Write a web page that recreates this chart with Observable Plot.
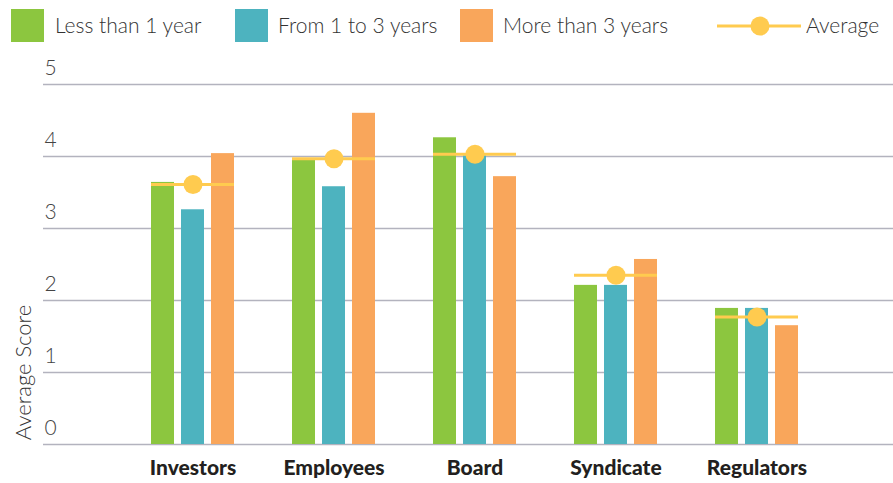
<!DOCTYPE html>
<html>
<head>
<meta charset="utf-8">
<script src="https://cdn.jsdelivr.net/npm/d3@7"></script>
<script src="https://cdn.jsdelivr.net/npm/@observablehq/plot@0.6"></script>
<style>
  html, body { margin: 0; padding: 0; background: #fff; }
  body { width: 893px; height: 483px; overflow: hidden; font-family: Lato, "Open Sans", sans-serif; }
  #legend { position: relative; height: 52px; width: 893px; }
  .sw { position: absolute; top: 9px; width: 33px; height: 33px; }
  .lt { position: absolute; top: 11px; font-size: 21px; font-weight: 300; color: #333; line-height: 28px; white-space: nowrap; }
  #chart svg { display: block; }
</style>
</head>
<body>
<div id="legend"></div>
<div id="chart"></div>
<script>
const categories = ["Investors", "Employees", "Board", "Syndicate", "Regulators"];
const series = ["Less than 1 year", "From 1 to 3 years", "More than 3 years"];
const lessThan1 = [3.64, 3.97, 4.26, 2.21, 1.89];
const from1to3 = [3.26, 3.58, 4.01, 2.21, 1.89];
const moreThan3 = [4.04, 4.60, 3.72, 2.57, 1.65];
const average = [3.61, 3.97, 4.03, 2.35, 1.77];
const yTicks = [0, 1, 2, 3, 4, 5];
const yTitle = "Average Score";
const colors = ["#8CC63F", "#4DB3BF", "#F9A65B"];
const avgColor = "#FFCB4F";

// Legend
const legend = document.getElementById("legend");
const legendPos = [{sw: 11, tx: 55}, {sw: 235, tx: 278}, {sw: 460, tx: 503}];
series.forEach((s, i) => {
  const sw = document.createElement("div");
  sw.className = "sw"; sw.style.left = legendPos[i].sw + "px"; sw.style.background = colors[i];
  legend.appendChild(sw);
  const t = document.createElement("div");
  t.className = "lt"; t.style.left = legendPos[i].tx + "px"; t.textContent = s;
  legend.appendChild(t);
});
const avgIcon = document.createElementNS("http://www.w3.org/2000/svg", "svg");
avgIcon.setAttribute("width", "84"); avgIcon.setAttribute("height", "30");
avgIcon.style.position = "absolute"; avgIcon.style.left = "717px"; avgIcon.style.top = "11px";
avgIcon.innerHTML = `<line x1="0" x2="84" y1="15" y2="15" stroke="${avgColor}" stroke-width="3"/><circle cx="43" cy="15" r="9.5" fill="${avgColor}"/>`;
legend.appendChild(avgIcon);
const at = document.createElement("div");
at.className = "lt"; at.style.left = "806px"; at.textContent = "Average";
legend.appendChild(at);

const rows = (vals) => categories.map((c, i) => ({category: c, value: vals[i]}));

const plot = Plot.plot({
  width: 893,
  height: 431,
  marginLeft: 43,
  marginRight: 0,
  marginTop: 32,
  marginBottom: 39,
  style: {fontFamily: "Lato, 'Open Sans', sans-serif", background: "#fff"},
  x: {domain: categories, range: [122, 827], padding: 0, label: null},
  y: {domain: [0, 5], label: null, axis: null},
  marks: [
    Plot.ruleY(yTicks, {stroke: "#b3b3be", strokeWidth: 1.5}),
    Plot.text(yTicks, {y: d => d, text: d => String(d), frameAnchor: "left", textAnchor: "start", dx: 1, dy: -16, fontSize: 21, fontWeight: 300, fill: "#444"}),
    Plot.barY(rows(lessThan1), {x: "category", y: "value", fill: colors[0], insetLeft: 29, insetRight: 89}),
    Plot.barY(rows(from1to3), {x: "category", y: "value", fill: colors[1], insetLeft: 59, insetRight: 59}),
    Plot.barY(rows(moreThan3), {x: "category", y: "value", fill: colors[2], insetLeft: 89, insetRight: 29}),
    Plot.tickY(rows(average), {x: "category", y: "value", stroke: avgColor, strokeWidth: 3, insetLeft: 29, insetRight: 29}),
    Plot.dot(rows(average), {x: "category", y: "value", r: 9.5, fill: avgColor}),
    Plot.axisX({tickSize: 0, tickPadding: 16, fontSize: 21, fontWeight: 900, fill: "#231f20", label: null}),
    Plot.text([yTitle], {text: d => d, frameAnchor: "left", textAnchor: "middle", y: () => 1.0, dx: -20, rotate: -90, fontSize: 22, fontWeight: 300, fill: "#333"})
  ]
});
document.getElementById("chart").appendChild(plot);
</script>
</body>
</html>
